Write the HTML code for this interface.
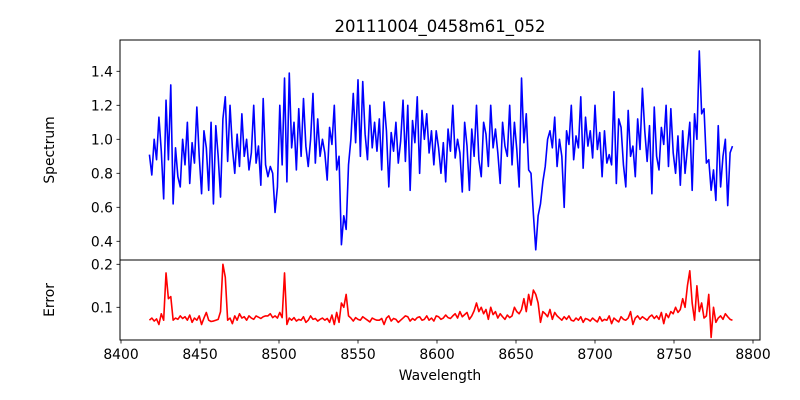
<!DOCTYPE html>
<html><head><meta charset="utf-8"><style>
html,body{margin:0;padding:0;background:#fff;}
svg{display:block;font-family:"DejaVu Sans","Liberation Sans",sans-serif;}
</style></head><body>
<svg id="chart" width="800" height="400" viewBox="0 0 800 400">
<defs>
<clipPath id="cTop"><rect x="120" y="40" width="640" height="220"/></clipPath>
<clipPath id="cBot"><rect x="120" y="260" width="640" height="80"/></clipPath>
</defs>
<text x="440" y="32" text-anchor="middle" font-size="16.5">20111004_0458m61_052</text>
<text transform="translate(54,150) rotate(-90)" text-anchor="middle" font-size="13.9">Spectrum</text>
<text transform="translate(54,300) rotate(-90)" text-anchor="middle" font-size="13.9">Error</text>
<text x="440" y="380" text-anchor="middle" font-size="13.9">Wavelength</text>
<g id="g"></g>
</svg>
<script>
const wlStart = 8418, wlStep = 1.5;
const spectrum = [
0.91,0.79,1.0,0.88,1.13,0.93,0.65,1.23,0.88,1.32,0.62,0.95,0.78,0.72,1.0,0.85,1.1,0.74,0.98,0.86,
1.19,0.9,0.68,1.05,0.95,0.7,1.1,0.62,1.08,0.9,0.66,1.12,1.25,0.87,1.2,0.95,0.8,1.03,0.84,1.15,
0.9,1.0,0.82,0.92,1.2,0.86,0.96,0.73,1.24,0.85,0.78,0.84,0.8,0.57,0.72,1.2,0.85,1.36,0.75,1.39,
0.95,1.1,0.82,1.18,0.9,1.24,0.96,0.84,1.0,1.27,0.86,1.12,0.9,1.0,0.92,0.76,1.07,0.97,1.2,0.82,
0.9,0.38,0.55,0.47,0.85,1.0,1.27,0.98,1.35,0.9,1.34,1.03,0.88,1.2,0.95,1.1,0.93,1.12,0.82,1.22,
1.05,0.72,1.04,0.93,1.1,0.86,0.99,1.23,0.87,1.2,0.7,1.11,0.98,1.25,0.8,1.17,1.0,1.15,0.92,1.05,
0.85,1.05,0.95,0.8,0.98,0.75,1.06,0.93,1.2,0.89,1.0,0.92,0.69,1.1,0.96,0.7,1.06,0.9,1.2,0.88,
0.78,1.1,1.03,0.84,1.2,0.95,1.06,0.92,0.74,1.1,0.96,0.9,1.2,0.85,1.1,0.94,0.72,1.36,0.98,1.15,
0.82,0.8,0.56,0.35,0.55,0.62,0.75,0.84,1.0,1.05,0.95,1.13,0.84,1.0,0.9,0.6,1.05,0.97,1.2,0.88,
1.02,0.95,1.25,0.83,1.13,0.96,1.05,0.89,1.2,0.94,1.04,0.78,1.05,0.86,0.91,0.85,1.28,0.74,1.12,1.07,
0.85,0.72,1.17,0.9,0.96,0.78,1.12,0.94,1.3,1.05,0.87,1.08,0.68,1.19,0.9,0.82,1.07,0.97,1.2,0.84,
1.18,0.92,0.8,1.02,0.73,1.05,0.8,0.95,1.1,0.7,1.15,1.0,1.52,1.15,1.18,0.86,0.88,0.7,0.82,0.64,
1.08,0.72,0.9,1.0,0.61,0.92,0.96];
const errorVals = [
0.07,0.075,0.068,0.073,0.06,0.085,0.07,0.18,0.12,0.125,0.07,0.075,0.072,0.08,0.074,0.078,0.07,0.082,0.065,0.075,
0.07,0.08,0.06,0.075,0.088,0.07,0.067,0.068,0.07,0.072,0.09,0.2,0.17,0.07,0.075,0.062,0.08,0.07,0.085,0.075,
0.078,0.07,0.08,0.075,0.072,0.08,0.077,0.074,0.078,0.08,0.08,0.085,0.076,0.08,0.075,0.088,0.076,0.18,0.06,0.075,
0.07,0.076,0.068,0.072,0.07,0.078,0.065,0.07,0.08,0.072,0.074,0.068,0.072,0.075,0.07,0.074,0.065,0.082,0.06,0.088,
0.065,0.11,0.1,0.13,0.08,0.075,0.068,0.076,0.072,0.07,0.078,0.074,0.07,0.066,0.075,0.072,0.07,0.07,0.074,0.06,
0.075,0.08,0.068,0.074,0.072,0.065,0.07,0.075,0.08,0.078,0.068,0.074,0.07,0.076,0.078,0.07,0.072,0.08,0.07,0.075,
0.068,0.08,0.078,0.072,0.075,0.082,0.076,0.074,0.08,0.085,0.075,0.09,0.078,0.083,0.088,0.072,0.08,0.092,0.11,0.09,
0.1,0.085,0.095,0.072,0.1,0.083,0.09,0.075,0.085,0.078,0.072,0.082,0.076,0.08,0.1,0.09,0.085,0.095,0.12,0.09,
0.13,0.105,0.14,0.13,0.11,0.065,0.09,0.085,0.078,0.095,0.072,0.088,0.08,0.075,0.07,0.078,0.072,0.08,0.07,0.068,
0.075,0.07,0.078,0.065,0.074,0.072,0.068,0.075,0.07,0.066,0.078,0.068,0.072,0.07,0.08,0.062,0.075,0.07,0.066,0.078,
0.072,0.07,0.075,0.09,0.06,0.075,0.08,0.072,0.078,0.074,0.07,0.078,0.082,0.074,0.08,0.072,0.088,0.062,0.085,0.076,
0.09,0.085,0.1,0.088,0.095,0.12,0.1,0.15,0.185,0.11,0.07,0.15,0.09,0.11,0.075,0.08,0.13,0.03,0.1,0.065,
0.075,0.08,0.072,0.085,0.078,0.072,0.07];
const xTicks = [8400,8450,8500,8550,8600,8650,8700,8750,8800];
const specTicks = [0.4,0.6,0.8,1.0,1.2,1.4];
const errTicks = [0.1,0.2];

const NS = "http://www.w3.org/2000/svg";
const g = document.getElementById('g');
const X = w => 121 + (w - 8400) * 1.58;
const YS = v => 139.3 - (v - 1.0) * 170;
const YE = v => 307.3 - (v - 0.1) * 430;
function mk(tag, attrs){const e=document.createElementNS(NS,tag);for(const k in attrs)e.setAttribute(k,attrs[k]);g.appendChild(e);return e;}

function line(vals, yf, color, clip, name){
  const d = vals.map((v,i)=>(i?'L':'M')+X(wlStart+i*wlStep).toFixed(2)+' '+yf(v).toFixed(2)).join(' ');
  const p = mk('path',{d:d,fill:'none',stroke:color,'stroke-width':1.6,'stroke-linejoin':'round','clip-path':clip});
  
  
}
line(spectrum, YS, '#0000ff', 'url(#cTop)', 'spectrum-line');
line(errorVals, YE, '#ff0000', 'url(#cBot)', 'error-line');

const f1 = mk('rect',{x:120,y:40,width:640,height:220,fill:'none',stroke:'#000','stroke-width':1});


const f2 = mk('rect',{x:120,y:260,width:640,height:80,fill:'none',stroke:'#000','stroke-width':1});



xTicks.forEach(t=>{
  const x = X(t);
  const tk = mk('line',{x1:x,x2:x,y1:340,y2:343.5,stroke:'#000','stroke-width':0.8});
  
  
  const lb = mk('text',{x:x,y:359,'text-anchor':'middle','font-size':13.9});
  lb.textContent = t;
  
  
});
specTicks.forEach(t=>{
  const y = YS(t);
  const tk = mk('line',{x1:116.5,x2:120,y1:y,y2:y,stroke:'#000','stroke-width':0.8});
  
  
  const lb = mk('text',{x:113,y:y+5,'text-anchor':'end','font-size':13.9});
  lb.textContent = t.toFixed(1);
  
  
});
errTicks.forEach(t=>{
  const y = YE(t);
  const tk = mk('line',{x1:116.5,x2:120,y1:y,y2:y,stroke:'#000','stroke-width':0.8});
  
  
  const lb = mk('text',{x:113,y:y+5,'text-anchor':'end','font-size':13.9});
  lb.textContent = t.toFixed(1);
  
  
});
</script>
</body></html>
